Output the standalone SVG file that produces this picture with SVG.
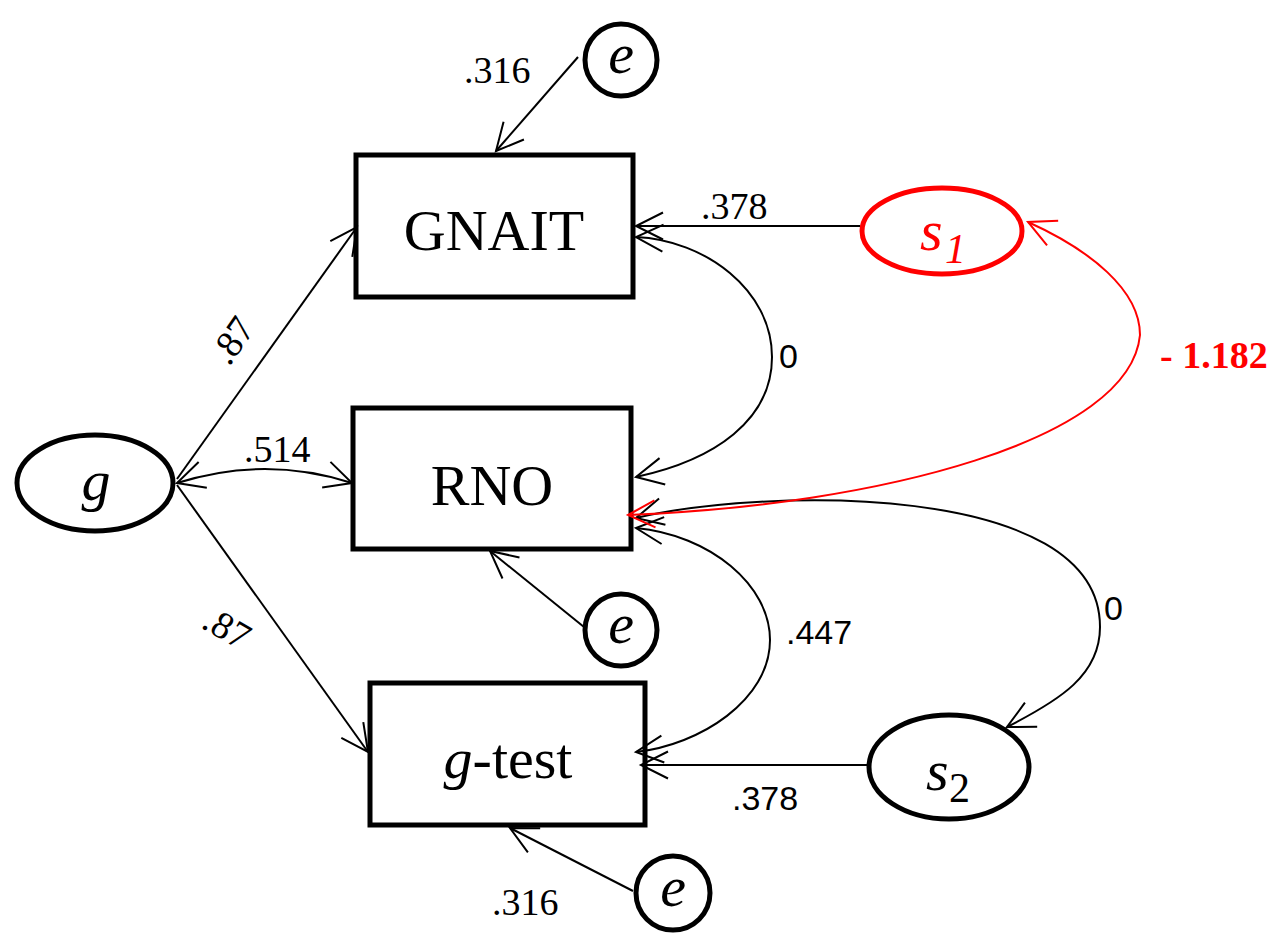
<svg xmlns="http://www.w3.org/2000/svg" width="1275" height="935" viewBox="0 0 1275 935">
<style>
.box{fill:#fff;stroke:#000;stroke-width:5}
.ell{fill:#fff;stroke:#000;stroke-width:5}
.red{stroke:#f00}
.c{fill:none;stroke:#000;stroke-width:2}
.cr{fill:none;stroke:#f00;stroke-width:2}
.nt{font-family:"Liberation Serif",serif;font-size:58px;fill:#000}
.it{font-style:italic}
.lb{font-family:"Liberation Serif",serif;font-size:38px;fill:#000}
.ls{font-family:"Liberation Sans",sans-serif;font-size:34px;fill:#000}
</style>
<defs>
<marker id="a" markerUnits="userSpaceOnUse" orient="auto-start-reverse" overflow="visible" refX="0" refY="0" markerWidth="1" markerHeight="1">
<path d="M-27,-13.5 L0,0 L-27,13.5" fill="none" stroke="#000" stroke-width="2"/>
</marker>
<marker id="ar" markerUnits="userSpaceOnUse" orient="auto-start-reverse" overflow="visible" refX="0" refY="0" markerWidth="1" markerHeight="1">
<path d="M-27,-13.5 L0,0 L-27,13.5" fill="none" stroke="#f00" stroke-width="2"/>
</marker>
</defs>
<rect width="1275" height="935" fill="#fff"/>

<g id="GNAIT"><rect class="box" x="356" y="155" width="277" height="142"/><text class="nt" x="494" y="250" text-anchor="middle">GNAIT</text></g>
<g id="RNO"><rect class="box" x="353" y="408" width="278" height="141"/><text class="nt" x="492" y="505" text-anchor="middle">RNO</text></g>
<g id="gtest"><rect class="box" x="370" y="683" width="275" height="142"/><text class="nt" x="508" y="778" text-anchor="middle"><tspan class="it">g</tspan>-test</text></g>
<g id="g"><ellipse class="ell" cx="95" cy="483" rx="78" ry="48"/><text class="nt it" x="96" y="500" text-anchor="middle">g</text></g>
<g id="s1"><ellipse class="ell red" cx="942" cy="231" rx="80" ry="43" stroke-width="6"/><text class="nt it" x="920" y="250" fill="#f00" style="fill:#f00">s</text><text class="nt it" x="945" y="263" style="fill:#f00;font-size:42px">1</text></g>
<g id="s2"><ellipse class="ell" cx="949" cy="767" rx="80" ry="52" stroke-width="6"/><text class="nt it" x="926" y="790">s</text><text class="nt" x="949" y="802" style="font-size:42px">2</text></g>
<g id="e1"><circle class="ell" cx="621" cy="60" r="36"/><text class="nt it" x="621" y="73" text-anchor="middle">e</text></g>
<g id="e2"><circle class="ell" cx="621" cy="630" r="36"/><text class="nt it" x="621" y="643" text-anchor="middle">e</text></g>
<g id="e3"><circle class="ell" cx="673" cy="893" r="37"/><text class="nt it" x="673" y="906" text-anchor="middle">e</text></g>

<g id="connectors">
<path class="c" d="M578,57 L496,151" marker-end="url(#a)"/>
<path class="c" d="M860,226 L636,226" marker-end="url(#a)"/>
<path class="c" d="M636,237 C705,240 772,290 772,357 C772,420 715,460 636,477" marker-start="url(#a)" marker-end="url(#a)"/>
<path class="c" d="M177,479 L357,227" marker-end="url(#a)"/>
<path class="c" d="M177,483 Q265,455 352,483" marker-start="url(#a)" marker-end="url(#a)"/>
<path class="c" d="M177,485 L368,752" marker-end="url(#a)"/>
<path class="c" d="M584,627 L490,551" marker-end="url(#a)"/>
<path class="c" d="M636,528 C710,535 770,585 770,640 C770,700 700,745 636,752" marker-start="url(#a)" marker-end="url(#a)"/>
<path class="c" d="M636,518 C760,488 1100,480 1100,627 C1100,675 1060,700 1007,727" marker-start="url(#a)" marker-end="url(#a)"/>
<path class="c" d="M867,765 L641,765" marker-end="url(#a)"/>
<path class="c" d="M633,891 L510,828" marker-end="url(#a)"/>
<path class="cr" d="M628,515 C880,505 1130,440 1140,335 C1140,290 1090,250 1028,222" marker-start="url(#ar)" marker-end="url(#ar)"/>
</g>

<g id="labels">
<text class="lb" x="464" y="83">.316</text>
<text class="lb" x="701" y="219">.378</text>
<text class="lb" x="244" y="462">.514</text>
<text class="lb" transform="translate(229,367) rotate(-55)">.87</text>
<text class="lb" transform="translate(200,627) rotate(30)">.87</text>
<text class="ls" x="779" y="368">0</text>
<text class="ls" x="786" y="644">.447</text>
<text class="ls" x="1104" y="620">0</text>
<text class="ls" x="732" y="810">.378</text>
<text class="lb" x="492" y="915">.316</text>
<text class="lb" x="1160" y="368" style="fill:#f00;font-weight:bold">- 1.182</text>
</g>
</svg>
